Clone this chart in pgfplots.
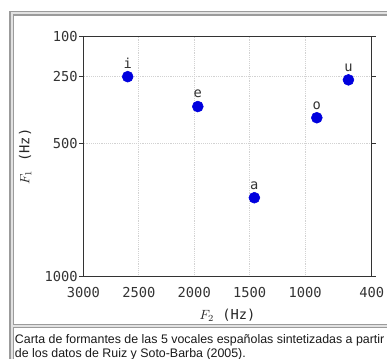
\documentclass[border=0pt]{standalone}
\usepackage{fontspec}
\setmainfont{Liberation Sans}
\setmonofont{DejaVu Sans Mono}
\usepackage{pgfplots}
\pgfplotsset{compat=1.18}
\definecolor{ptblue}{RGB}{0,0,222}
\definecolor{frameline}{RGB}{155,155,155}
\definecolor{framegap}{RGB}{226,226,226}
\newcommand{\tickfont}{\ttfamily\fontsize{10.3}{12}\selectfont}
\begin{document}
\begin{tikzpicture}
\useasboundingbox (0,0) rectangle (290.25pt,-269.25pt);
\clip (0,0) rectangle (290.25pt,-269.25pt);
% thumbnail frame
\fill[framegap] (7.5pt,-8.6pt) rectangle (300pt,-290pt);
\draw[frameline, line width=0.8pt] (7.5pt,-290pt) -- (7.5pt,-8.6pt) -- (300pt,-8.6pt);
\filldraw[fill=white, draw=frameline, line width=0.8pt] (9.9pt,-11.25pt) rectangle (300pt,-243.2pt);
\filldraw[fill=white, draw=frameline, line width=0.8pt] (9.9pt,-245.55pt) rectangle (300pt,-290pt);
% caption
\node[anchor=base west, inner sep=0pt, font=\fontsize{9.3}{10.5}\selectfont, text=black!90] at (11.0pt,-258.0pt) {Carta de formantes de las 5 vocales españolas sintetizadas a partir};
\node[anchor=base west, inner sep=0pt, font=\fontsize{9.3}{10.5}\selectfont, text=black!90] at (11.0pt,-267.8pt) {de los datos de Ruiz y Soto-Barba (2005).};
\begin{axis}[
  at={(62.5pt,-207.5pt)}, anchor=south west,
  scale only axis, width=216.3pt, height=180pt,
  x dir=reverse, y dir=reverse,
  xmin=400, xmax=3000, ymin=100, ymax=1000,
  xtick={3000,2500,2000,1500,1000,400},
  xticklabels={3000,2500,2000,1500,1000,400},
  ytick={100,250,500,1000},
  yticklabels={100,250,500,1000},
  tick align=outside, major tick length=3pt,
  xtick style={draw=none},
  ytick style={black!80, line width=0.6pt},
  ticklabel style={font=\tickfont, text=black!80},
  yticklabel style={inner sep=1pt},
  xticklabel style={inner sep=1pt},
  xticklabel shift=4pt,
  grid=major,
  major grid style={gray!35, densely dotted, line width=0.5pt},
  axis line style={black!80, line width=0.8pt},
  xlabel={$F_2$ \texttt{(Hz)}},
  ylabel={$F_1$ \texttt{(Hz)}},
  label style={font=\tickfont, text=black!85},
  xlabel style={at={(axis description cs:0.5,-0.16)}, anchor=center},
  ylabel style={at={(axis description cs:-0.202,0.5)}, anchor=center},
  clip=false,
]
\addplot[only marks, mark=*, mark size=4.1pt, color=ptblue,
  nodes near coords, point meta=explicit symbolic,
  nodes near coords style={anchor=base, yshift=6.5pt, text=black!80, font=\tickfont}]
  table[meta=label] {
x y label
2600 250 i
1968 362 e
1458 704 a
895 404 o
610 262 u
};
\end{axis}
\end{tikzpicture}
\end{document}
